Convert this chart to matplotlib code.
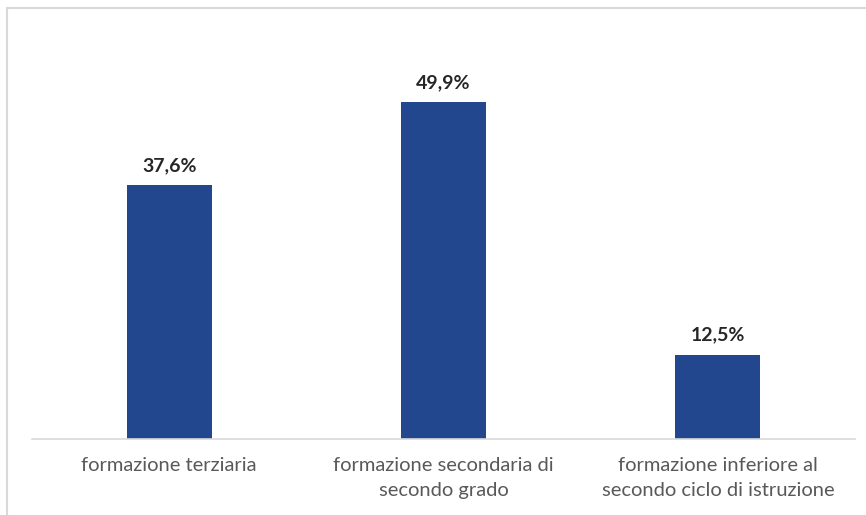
import matplotlib.pyplot as plt
from matplotlib.patches import Rectangle

categories = ["formazione terziaria",
              "formazione secondaria di\nsecondo grado",
              "formazione inferiore al\nsecondo ciclo di istruzione"]
values = [37.6, 49.9, 12.5]
value_labels = ["37,6%", "49,9%", "12,5%"]

plt.rcParams['font.family'] = ['Lato', 'DejaVu Sans']

fig = plt.figure(figsize=(8.66, 5.15), dpi=100)
# chart frame (cropped on the right and bottom, as in the picture)
fig.patches.append(Rectangle((7.5 / 866, -0.1), 1.2, (515 - 7.5) / 515 + 0.1,
                             transform=fig.transFigure, fill=False,
                             edgecolor="#d9d9d9", linewidth=1.5))

ax = fig.add_axes([32 / 866, 1 - 439 / 515, 823 / 866, 405 / 515])
x = range(len(categories))
bars = ax.bar(x, values, width=0.31, color="#22478E")

for b, lab in zip(bars, value_labels):
    ax.annotate(lab, (b.get_x() + b.get_width() / 2, b.get_height()),
                xytext=(0, 8), textcoords="offset points",
                ha="center", va="bottom", fontsize=14, fontweight="bold",
                color="#262626")

ax.set_xlim(-0.5, 2.5)
ax.set_ylim(0, 60)
ax.set_xticks(list(x))
ax.set_xticklabels(categories, fontsize=14.5, color="#595959", linespacing=1.55)
ax.tick_params(axis="x", length=0, pad=13)
ax.set_yticks([])
for s in ["top", "right", "left"]:
    ax.spines[s].set_visible(False)
ax.spines["bottom"].set_color("#d9d9d9")
ax.spines["bottom"].set_linewidth(1.2)

fig.savefig("out.png", dpi=100)
